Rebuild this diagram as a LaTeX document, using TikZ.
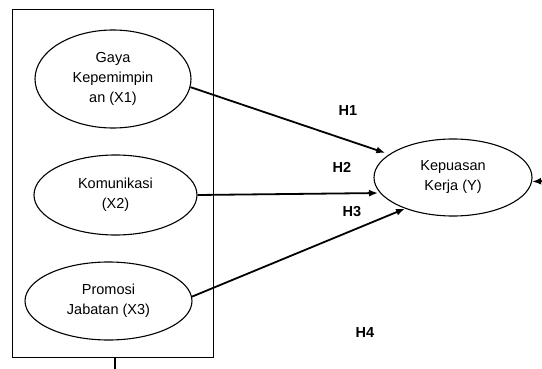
\documentclass[tikz,border=0pt]{standalone}
\usepackage{fontspec}
\setmainfont{Liberation Sans}
\usetikzlibrary{arrows.meta,shapes.geometric}
\begin{document}
\begin{tikzpicture}[x=1pt,y=-1pt,
  every node/.style={font=\fontsize{14.5}{20}\selectfont},
  var/.style={draw,ellipse,line width=1.1pt,inner sep=0pt,align=center},
  hyp/.style={font=\fontsize{14.5}{18}\selectfont\bfseries},
  hpath/.style={line width=1.8pt,-{Latex[length=9pt,width=7pt]}},
  thinline/.style={line width=1pt}]
\useasboundingbox (0,0) rectangle (542,369);
\node[draw,thinline,minimum width=201pt,minimum height=347pt,inner sep=0pt] (box) at (112.5,183.5) {};
\node[var,minimum width=156pt,minimum height=98pt] (e1) at (113,79) {Gaya\\Kepemimpin\\an (X1)};
\node[var,minimum width=163pt,minimum height=80pt] (e2) at (115.5,195) {Komunikasi\\(X2)};
\node[var,minimum width=167pt,minimum height=78pt] (e3) at (108.5,301) {Promosi\\Jabatan (X3)};
\node[var,minimum width=158pt,minimum height=77pt] (y) at (453,177.5) {Kepuasan\\Kerja (Y)};
\node[hyp] (h1) at (348,111) {H1};
\node[hyp] (h2) at (342,167) {H2};
\node[hyp] (h3) at (352,212) {H3};
\node[hyp] (h4) at (365,333) {H4};
\coordinate (rin) at (545,181);
\coordinate (bl) at (115,369);
\draw[hpath,shorten >=4pt] (e1.-6) -- (y.160);
\draw[hpath,shorten >=2pt] (e2.east) -- (y.192);
\draw[hpath] (e3.3) -- (y.213);
\draw[hpath] (rin) -- (y.-3);
\draw[line width=1.5pt] (box.south -| bl) -- (bl);
\end{tikzpicture}
\end{document}
